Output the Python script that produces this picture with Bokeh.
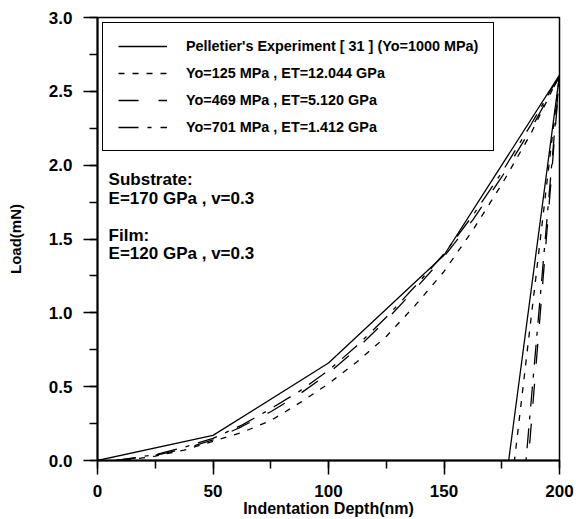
from bokeh.plotting import figure
from bokeh.models import Legend, LegendItem, Label, SingleIntervalTicker, PrintfTickFormatter, Range1d
from bokeh.embed import file_html
from bokeh.resources import INLINE

# ---- data ----
exp_depth = [0, 50, 100, 150, 200, 178]
exp_load = [0, 0.17, 0.66, 1.39, 2.61, 0]

y125_depth = [12, 25, 37.5, 50, 62.5, 75, 87.5, 100, 112.5, 125, 137.5, 150, 162.5, 175, 187.5, 200, 180.5]
y125_load = [0, 0.03, 0.07, 0.13, 0.19, 0.27, 0.39, 0.52, 0.67, 0.84, 1.05, 1.28, 1.56, 1.87, 2.21, 2.61, 0]

y469_depth = [8, 25, 37.5, 50, 62.5, 75, 87.5, 100, 112.5, 125, 137.5, 150, 162.5, 175, 187.5, 200, 186.5]
y469_load = [0, 0.035, 0.08, 0.14, 0.23, 0.33, 0.45, 0.59, 0.76, 0.95, 1.16, 1.38, 1.63, 1.92, 2.24, 2.60, 0]

y701_depth = [8, 25, 37.5, 50, 62.5, 75, 87.5, 100, 112.5, 125, 137.5, 150, 162.5, 175, 187.5, 200, 185.5]
y701_load = [0, 0.04, 0.09, 0.15, 0.24, 0.35, 0.47, 0.61, 0.78, 0.97, 1.18, 1.40, 1.66, 1.95, 2.27, 2.61, 0]

legend_labels = [
    "Pelletier's Experiment [ 31 ] (Yo=1000 MPa)",
    "Yo=125 MPa , ET=12.044 GPa",
    "Yo=469 MPa , ET=5.120 GPa",
    "Yo=701 MPa , ET=1.412 GPa",
]
notes = ["Substrate:", "E=170 GPa , v=0.3", "Film:", "E=120 GPa , v=0.3"]
note_y = [1.90, 1.775, 1.525, 1.40]
x_title = "Indentation Depth(nm)"
y_title = "Load(mN)"

FONT = "Liberation Sans"

p = figure(width=576, height=519, output_backend="svg", toolbar_location=None,
           x_range=Range1d(0, 200), y_range=Range1d(0, 3.0),
           min_border_left=97, min_border_top=17, min_border_right=17, min_border_bottom=59)
p.xgrid.visible = False
p.ygrid.visible = False
p.outline_line_color = "black"
p.outline_line_width = 1.5
p.outline_line_alpha = 1

p.xaxis.ticker = SingleIntervalTicker(interval=50, num_minor_ticks=2)
p.yaxis.ticker = SingleIntervalTicker(interval=0.5, num_minor_ticks=2)
p.yaxis.formatter = PrintfTickFormatter(format="%.1f")

for ax in (p.xaxis[0], p.yaxis[0]):
    ax.axis_line_width = 2
    ax.axis_line_color = "black"
    ax.major_tick_line_width = 1.5
    ax.minor_tick_line_width = 1.5
    ax.major_tick_line_color = "black"
    ax.minor_tick_line_color = "black"
    ax.major_tick_out = 14
    ax.major_tick_in = 0
    ax.minor_tick_out = 8
    ax.minor_tick_in = 0
    ax.major_label_text_font = FONT
    ax.major_label_text_font_style = "bold"
    ax.major_label_text_font_size = "17px"
    ax.major_label_text_color = "black"
    ax.axis_label_text_font = FONT
    ax.axis_label_text_font_style = "bold"
    ax.axis_label_text_color = "black"

p.xaxis.axis_label = x_title
p.xaxis.axis_label_text_font_size = "16px"
p.xaxis.major_label_standoff = 10
p.xaxis.axis_label_standoff = 0
p.yaxis.axis_label = y_title
p.yaxis.axis_label_text_font_size = "15px"
p.yaxis.major_label_standoff = 11
p.yaxis.axis_label_standoff = 22

r0 = p.line(exp_depth, exp_load, line_color="black", line_width=1.3)
r1 = p.line(y125_depth, y125_load, line_color="black", line_width=1.3, line_dash="6 8")
r2 = p.line(y469_depth, y469_load, line_color="black", line_width=1.3, line_dash="20 20")
r3 = p.line(y701_depth, y701_load, line_color="black", line_width=1.3, line_dash="20 9 4 9")

legend = Legend(items=[LegendItem(label=l, renderers=[r]) for l, r in zip(legend_labels, [r0, r1, r2, r3])],
                location="top_left", margin=5, padding=15, spacing=11,
                label_height=14, glyph_height=14, glyph_width=49, label_standoff=19,
                label_text_font=FONT, label_text_font_style="bold", label_text_font_size="14.4px",
                label_text_color="black",
                border_line_color="black", border_line_width=1.5, border_line_alpha=1,
                background_fill_color="white", background_fill_alpha=1)
p.add_layout(legend)

for t, yv in zip(notes, note_y):
    p.add_layout(Label(x=4.8, y=yv, text=t, text_font=FONT, text_font_style="bold",
                       text_font_size="17px", text_color="black", text_baseline="middle"))

open("out.html", "w").write(file_html(p, INLINE))
